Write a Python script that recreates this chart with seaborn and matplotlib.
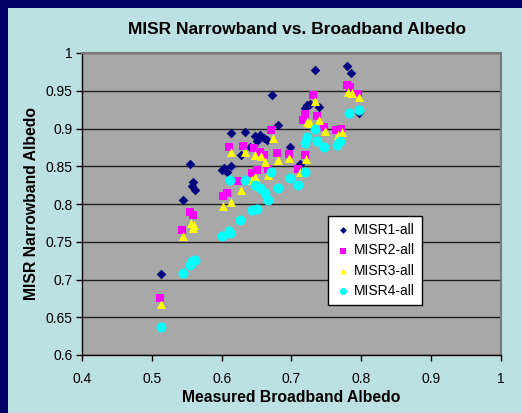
import matplotlib
matplotlib.use("Agg")
import matplotlib.pyplot as plt
import seaborn as sns
import numpy as np
from matplotlib.patches import Rectangle

# values
misr1_x = [0.513, 0.544, 0.555, 0.557, 0.559, 0.562, 0.600, 0.603, 0.607, 0.614,
           0.613, 0.627, 0.634, 0.641, 0.648, 0.651, 0.655, 0.660, 0.665, 0.672,
           0.680, 0.698, 0.712, 0.719, 0.722, 0.727, 0.734, 0.739, 0.780, 0.785, 0.797]
misr1_y = [0.707, 0.805, 0.853, 0.824, 0.829, 0.819, 0.845, 0.848, 0.843, 0.850,
           0.894, 0.865, 0.895, 0.876, 0.890, 0.883, 0.891, 0.887, 0.885, 0.945,
           0.904, 0.875, 0.853, 0.927, 0.931, 0.933, 0.977, 0.929, 0.983, 0.973, 0.921]

misr2_x = [0.511, 0.543, 0.554, 0.559, 0.602, 0.608, 0.610, 0.624, 0.631, 0.643,
           0.647, 0.650, 0.655, 0.661, 0.667, 0.671, 0.679, 0.696, 0.710, 0.717,
           0.719, 0.720, 0.731, 0.737, 0.746, 0.764, 0.771, 0.779, 0.784, 0.795]
misr2_y = [0.676, 0.766, 0.790, 0.785, 0.810, 0.814, 0.876, 0.830, 0.877, 0.841,
           0.874, 0.845, 0.869, 0.865, 0.847, 0.898, 0.867, 0.866, 0.847, 0.911,
           0.865, 0.919, 0.944, 0.916, 0.902, 0.898, 0.900, 0.958, 0.955, 0.946]

misr3_x = [0.513, 0.544, 0.556, 0.559, 0.561, 0.602, 0.613, 0.613, 0.628, 0.634,
           0.643, 0.648, 0.648, 0.657, 0.662, 0.667, 0.673, 0.680, 0.697, 0.712,
           0.721, 0.722, 0.727, 0.734, 0.739, 0.748, 0.767, 0.772, 0.781, 0.786, 0.797]
misr3_y = [0.668, 0.757, 0.775, 0.768, 0.772, 0.797, 0.803, 0.869, 0.818, 0.869,
           0.832, 0.836, 0.865, 0.863, 0.856, 0.838, 0.888, 0.858, 0.861, 0.842,
           0.859, 0.909, 0.907, 0.936, 0.911, 0.897, 0.891, 0.896, 0.949, 0.947, 0.942]

misr4_x = [0.513, 0.544, 0.555, 0.557, 0.562, 0.601, 0.610, 0.612, 0.612, 0.626,
           0.633, 0.643, 0.648, 0.650, 0.655, 0.662, 0.667, 0.671, 0.680, 0.698,
           0.710, 0.719, 0.720, 0.722, 0.734, 0.737, 0.746, 0.765, 0.769, 0.782, 0.796]
misr4_y = [0.637, 0.708, 0.719, 0.724, 0.726, 0.757, 0.764, 0.762, 0.832, 0.779,
           0.832, 0.792, 0.825, 0.794, 0.821, 0.814, 0.805, 0.843, 0.821, 0.834,
           0.825, 0.843, 0.881, 0.889, 0.899, 0.883, 0.876, 0.878, 0.884, 0.921, 0.924]

labels = ['MISR1-all', 'MISR2-all', 'MISR3-all', 'MISR4-all']
x_ticks = [0.4, 0.5, 0.6, 0.7, 0.8, 0.9, 1.0]
y_ticks = [0.6, 0.65, 0.7, 0.75, 0.8, 0.85, 0.9, 0.95, 1.0]

sns.set_style("white")
plt.rcParams['font.family'] = ['Liberation Sans', 'DejaVu Sans']
plt.rcParams['text.color'] = 'black'

W, H = 522, 413
fig = plt.figure(figsize=(W / 100, H / 100), dpi=100)
fig.patch.set_facecolor('#000066')
fig.patches.append(Rectangle((8 / W, 0), 1, 1 - 8 / H, transform=fig.transFigure,
                             facecolor='#bde0e3', edgecolor='none', zorder=-10))

ax = fig.add_axes([82 / W, 1 - 355 / H, 419 / W, 302 / H])
ax.set_facecolor('#a8a8a8')

series = [
    (misr1_x, misr1_y, 'D', '#000080', 24),
    (misr2_x, misr2_y, 's', '#ff00ff', 36),
    (misr3_x, misr3_y, '^', '#ffff00', 42),
    (misr4_x, misr4_y, 'o', '#00ffff', 52),
]
for (xs, ys, m, c, s), lab in zip(series, labels):
    sns.scatterplot(x=xs, y=ys, marker=m, color=c, s=s, linewidth=0,
                    label=lab, ax=ax, zorder=3)

ax.set_xlim(0.4, 1.0)
ax.set_ylim(0.6, 1.0)
ax.set_xticks(x_ticks)
ax.set_yticks(y_ticks)
ax.set_xticklabels([f'{v:g}' for v in x_ticks])
ax.set_yticklabels([f'{v:g}' for v in y_ticks])
ax.yaxis.grid(True, color='#202020', linewidth=1)
ax.xaxis.grid(False)
ax.set_axisbelow(True)
ax.tick_params(axis='both', direction='out', length=4, width=1, color='black',
               labelsize=10, labelcolor='black')
ax.tick_params(axis='x', pad=8)
ax.tick_params(axis='y', pad=3)
ax.tick_params(bottom=True, left=True)

for side in ['left', 'bottom']:
    ax.spines[side].set_color('black')
    ax.spines[side].set_linewidth(1)
for side in ['top', 'right']:
    ax.spines[side].set_color('#7a7a7a')
    ax.spines[side].set_linewidth(1.5)

ax.set_xlabel('')
ax.set_ylabel('')
fig.text(297 / W, 1 - 30 / H, 'MISR Narrowband vs. Broadband Albedo',
         ha='center', va='center', fontsize=12.5, fontweight='bold')
fig.text(291 / W, 1 - 398 / H, 'Measured Broadband Albedo',
         ha='center', va='center', fontsize=11.3, fontweight='bold')
fig.text(32 / W, 1 - 204 / H, 'MISR Narrowband Albedo', rotation=90,
         ha='center', va='center', fontsize=11.3, fontweight='bold')

leg = ax.legend(loc='upper left', bbox_to_anchor=(0.587, 0.460), fontsize=10,
                frameon=True, fancybox=False, edgecolor='black', framealpha=1,
                handletextpad=0.2, labelspacing=0.45, borderpad=0.5,
                markerscale=0.7, handlelength=1.2, borderaxespad=0)
leg.get_frame().set_linewidth(1)

fig.savefig('out.png', dpi=100, facecolor=fig.get_facecolor())
